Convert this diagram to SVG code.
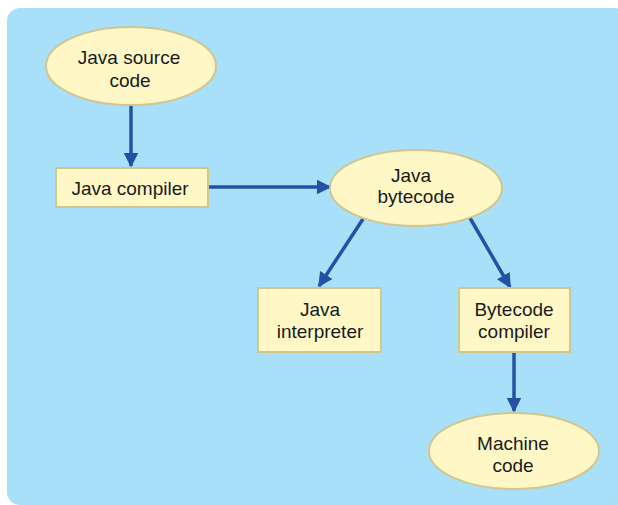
<svg xmlns="http://www.w3.org/2000/svg" width="618" height="505" viewBox="0 0 618 505">
<style>
.n{fill:#fff8c6;stroke:#d2c68e;stroke-width:2}
.t{font-family:"Liberation Sans",Arial,sans-serif;font-size:19px;fill:#1a1a1a;text-anchor:middle}
.c{stroke:#2550a6;stroke-width:3.5;fill:none;marker-end:url(#ah)}
</style>
<defs>
<marker id="ah" viewBox="0 0 10 10" refX="9" refY="5" markerWidth="4.2" markerHeight="4.2" markerUnits="strokeWidth" orient="auto">
<path d="M0,0 L10,5 L0,10 z" fill="#2550a6"/>
</marker>
</defs>
<rect x="7" y="8" width="622" height="497" rx="13" fill="#a8dff9"/>
<g id="connectors">
<line class="c" x1="131" y1="106" x2="131" y2="166"/>
<line class="c" x1="209" y1="187" x2="330" y2="187"/>
<line class="c" x1="363" y1="219" x2="319" y2="286"/>
<line class="c" x1="470" y1="218" x2="510" y2="287"/>
<line class="c" x1="514" y1="353" x2="514" y2="411"/>
</g>
<g id="java-source">
<ellipse class="n" cx="131" cy="66" rx="85" ry="39"/>
<text class="t" x="129" y="64">Java source</text>
<text class="t" x="130" y="87">code</text>
</g>
<g id="java-compiler">
<rect class="n" x="56" y="168" width="152" height="39"/>
<text class="t" x="130" y="195">Java compiler</text>
</g>
<g id="java-bytecode">
<ellipse class="n" cx="416" cy="188" rx="86" ry="38"/>
<text class="t" x="411" y="182">Java</text>
<text class="t" x="416" y="203">bytecode</text>
</g>
<g id="java-interpreter">
<rect class="n" x="258" y="288" width="123" height="64"/>
<text class="t" x="320" y="316">Java</text>
<text class="t" x="320" y="338">interpreter</text>
</g>
<g id="bytecode-compiler">
<rect class="n" x="459" y="288" width="111" height="64"/>
<text class="t" x="514" y="316">Bytecode</text>
<text class="t" x="514" y="338">compiler</text>
</g>
<g id="machine-code">
<ellipse class="n" cx="514" cy="451" rx="85" ry="38"/>
<text class="t" x="513" y="450">Machine</text>
<text class="t" x="513" y="472">code</text>
</g>
</svg>
